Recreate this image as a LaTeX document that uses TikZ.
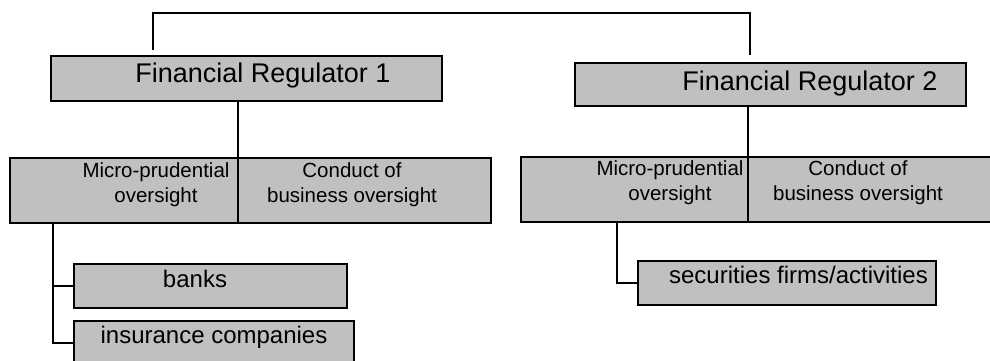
\documentclass[tikz,border=0pt]{standalone}
\usepackage{fontspec}
\setmainfont{Liberation Sans}
\definecolor{boxgray}{RGB}{192,192,192}
\begin{document}
\begin{tikzpicture}[x=1pt,y=-1pt,
  box/.style={draw=black, line width=2pt, fill=boxgray, inner sep=0pt,
              outer sep=0pt, anchor=north west},
  link/.style={draw=black, line width=2pt},
  headtext/.style={inner sep=0pt, font=\fontsize{27}{31}\selectfont},
  unittext/.style={inner sep=0pt, align=center, font=\fontsize{20.5}{25}\selectfont},
  entitytext/.style={inner sep=0pt, font=\fontsize{24}{28}\selectfont}]
\useasboundingbox (0,0) rectangle (990,361);
\begin{scope}
\clip (0,0) rectangle (990,361);

% regulators
\node[box, minimum width=391pt, minimum height=45pt] (fr1) at (51,56) {};
\node[box, minimum width=391pt, minimum height=43pt] (fr2) at (575,63) {};

% divisions of each regulator
\node[box, minimum width=228pt, minimum height=65pt] (g1l) at (10,158) {};
\node[box, minimum width=253pt, minimum height=65pt] (g1r) at (238,158) {};
\node[box, minimum width=227pt, minimum height=65pt] (g2l) at (521,157) {};
\node[box, minimum width=262pt, minimum height=65pt] (g2r) at (748,157) {};

% supervised entities
\node[box, minimum width=273pt, minimum height=44pt] (bank) at (74,264) {};
\node[box, minimum width=280pt, minimum height=44pt] (ins) at (74,321) {};
\node[box, minimum width=298pt, minimum height=44pt] (sec) at (638,261) {};

% labels
\node[headtext, anchor=base] (t1) at (263,82) {Financial Regulator 1};
\node[headtext, anchor=base] (t2) at (810,90) {Financial Regulator 2};
\node[unittext] (m1) at (156,184.5) {Micro-prudential\\oversight};
\node[unittext] (c1) at (352,184.5) {Conduct of\\business oversight};
\node[unittext] (m2) at (670,182.5) {Micro-prudential\\oversight};
\node[unittext] (c2) at (858,182.5) {Conduct of\\business oversight};
\node[entitytext, anchor=base] (tb) at (195,287) {banks};
\node[entitytext, anchor=base] (ti) at (214,343) {insurance companies};
\node[entitytext, anchor=base] (ts) at (798.5,283) {securities firms/activities};

% connectors
\draw[link] ([shift={(102,-6)}]fr1.north west) -- ++(0,-37)
            -| ([shift={(175,-8)}]fr2.north west);
\draw[link] (fr1.south -| g1l.east) -- (g1l.north east);
\draw[link] (fr2.south -| g2l.east) -- (g2l.north east);
\coordinate (j1) at ([shift={(43,0)}]g1l.south west);
\draw[link] (j1) |- (ins.west);
\draw[link] (bank.west) -- (bank.west -| j1);
\coordinate (j2) at ([shift={(96,0)}]g2l.south west);
\draw[link] (j2) |- (sec.west);
\end{scope}
\end{tikzpicture}
\end{document}
